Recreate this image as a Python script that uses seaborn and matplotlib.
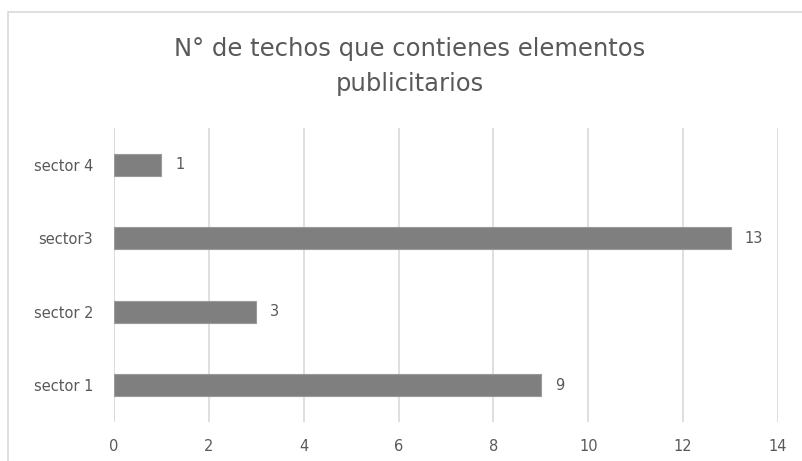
import pandas as pd
import numpy as np
import seaborn as sns
import matplotlib.pyplot as plt
from matplotlib.patches import Rectangle

# datos del gráfico
sectores = ['sector 4', 'sector3', 'sector 2', 'sector 1']
techos = [1, 13, 3, 9]
titulo = 'N° de techos que contienes elementos\npublicitarios'

df = pd.DataFrame({'Sector': sectores, 'Techos': techos})

sns.set_theme(style='white')
plt.rcParams['font.family'] = ['DejaVu Sans']
gris_txt = '#595959'

fig = plt.figure(figsize=(8.02, 4.61), dpi=100)
ax = fig.add_axes([114 / 802, 1 - 422 / 461, (778 - 114) / 802, (422 - 128) / 461])

sns.barplot(data=df, x='Techos', y='Sector', color='#7f7f7f', width=0.3,
            edgecolor='#9a9a9a', linewidth=0.8, saturation=1, ax=ax, zorder=3)

ax.set_xlim(0, 14)
ax.set_ylim(3.5, -0.5)
ax.set_xticks(range(0, 15, 2))
ax.grid(axis='x', color='#d9d9d9', linewidth=1.2, zorder=0)
ax.grid(axis='y', visible=False)
for s in ax.spines.values():
    s.set_visible(False)
ax.axvline(0, color='#d9d9d9', linewidth=1.2, zorder=1)
ax.set_xlabel('')
ax.set_ylabel('')
ax.tick_params(axis='both', length=0, labelsize=10.5, colors=gris_txt)
ax.tick_params(axis='y', pad=15)
ax.tick_params(axis='x', pad=12.5)

# etiquetas de valores
for cont in ax.containers:
    ax.bar_label(cont, padding=10, fontsize=10.5, color=gris_txt)

fig.text(410 / 802, 1 - 66.5 / 461, titulo, ha='center', va='center',
         fontsize=17.5, color=gris_txt, linespacing=1.59)

# marco del área del gráfico
fig.patches.append(Rectangle((8 / 802, -0.1), 1.2, 1 - 12 / 461 + 0.1,
                             transform=fig.transFigure, fill=False,
                             edgecolor='#d9d9d9', linewidth=1.2))

fig.savefig('out.png', dpi=100)
